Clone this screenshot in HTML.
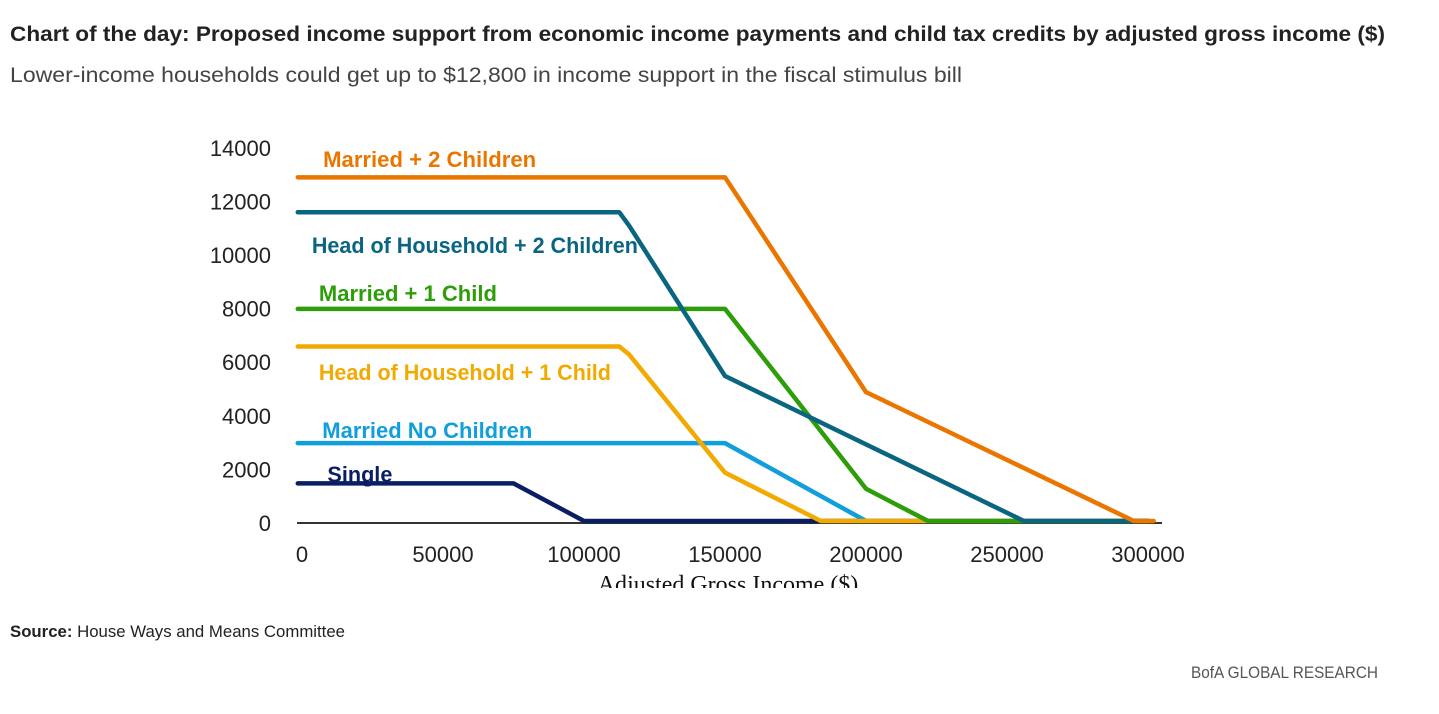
<!DOCTYPE html>
<html><head><meta charset="utf-8"><style>
html,body{margin:0;padding:0;background:#fff;width:1439px;height:714px;overflow:hidden}
svg{display:block;font-family:"Liberation Sans",sans-serif}
</style></head><body>
<svg id="chart" width="1439" height="714" viewBox="0 0 1439 714">
<text x="10" y="41" font-size="21" font-weight="bold" fill="#222" textLength="1375" lengthAdjust="spacingAndGlyphs">Chart of the day: Proposed income support from economic income payments and child tax credits by adjusted gross income ($)</text>
<text x="10" y="82" font-size="21" fill="#444" textLength="952" lengthAdjust="spacingAndGlyphs">Lower-income households could get up to $12,800 in income support in the fiscal stimulus bill</text>
<g id="yticks"></g>
<g id="xticks"></g>
<line x1="297" y1="523" x2="1162" y2="523" stroke="#333" stroke-width="2"/>
<g id="series"></g>
<text x="728" y="592" font-family="Liberation Serif,serif" font-size="24" fill="#111" text-anchor="middle">Adjusted Gross Income ($)</text>
<rect x="560" y="588" width="340" height="20" fill="#fff"/>
<text x="10" y="637" font-size="17" fill="#222" textLength="335" lengthAdjust="spacingAndGlyphs"><tspan font-weight="bold">Source:</tspan> House Ways and Means Committee</text>
<text x="1378" y="678" font-size="17" fill="#555" text-anchor="end" textLength="187" lengthAdjust="spacingAndGlyphs">BofA GLOBAL RESEARCH</text>
</svg>
<script>
const yTicks=[0,2000,4000,6000,8000,10000,12000,14000];
const xTicks=[0,50000,100000,150000,200000,250000,300000];
const seriesNames=["Single","Married No Children","Head of Household + 1 Child","Married + 1 Child","Head of Household + 2 Children","Married + 2 Children"];
const seriesColors=["#0a1f63","#119fdc","#f2a900","#2e9d0a","#0a6680","#ea7600"];
const singleX=[-1500,75000,100000,300000];
const singleY=[1400,1400,0,0];
const marriedNoX=[-1500,150000,200000];
const marriedNoY=[2900,2900,0];
const hoh1X=[-1500,112500,116000,150000,184000,300000];
const hoh1Y=[6500,6500,6200,1800,0,0];
const married1X=[-1500,150000,200000,222000,300000];
const married1Y=[7900,7900,1200,0,0];
const hoh2X=[-1500,112500,116000,150000,256000,300000];
const hoh2Y=[11500,11500,11000,5400,0,0];
const married2X=[-1500,150000,200000,295000,302000];
const married2Y=[12800,12800,4800,0,0];
const labelX=[9000,7200,6000,6000,3500,7500];
const labelY=[1450,3090,5250,8190,9980,13180];
const labelLen=[65,210,292,178,326,213];
const allX=[singleX,marriedNoX,hoh1X,married1X,hoh2X,married2X];
const allY=[singleY,marriedNoY,hoh1Y,married1Y,hoh2Y,married2Y];
const NS="http://www.w3.org/2000/svg";
const xs=v=>302+v*0.00282;
const ys=v=>521-v*0.02685;
const yg=document.getElementById('yticks');
yTicks.forEach(t=>{const e=document.createElementNS(NS,'text');


e.setAttribute('x',271);e.setAttribute('y',(523-t*0.0268)+8);e.setAttribute('text-anchor','end');e.setAttribute('font-size','22');e.setAttribute('fill','#222');e.textContent=t;yg.appendChild(e);});
const xg=document.getElementById('xticks');
xTicks.forEach(t=>{const e=document.createElementNS(NS,'text');


e.setAttribute('x',xs(t));e.setAttribute('y',562);e.setAttribute('text-anchor','middle');e.setAttribute('font-size','22');e.setAttribute('fill','#222');e.textContent=t;xg.appendChild(e);});
const sg=document.getElementById('series');
allX.forEach((xa,i)=>{const p=document.createElementNS(NS,'polyline');


p.setAttribute('points',xa.map((x,j)=>xs(x)+','+ys(allY[i][j])).join(' '));
p.setAttribute('fill','none');p.setAttribute('stroke',seriesColors[i]);p.setAttribute('stroke-width','4.5');p.setAttribute('stroke-linejoin','round');p.setAttribute('stroke-linecap','round');sg.appendChild(p);
const t=document.createElementNS(NS,'text');


t.setAttribute('x',xs(labelX[i]));t.setAttribute('y',ys(labelY[i]));t.setAttribute('font-size','22');t.setAttribute('font-weight','bold');t.setAttribute('fill',seriesColors[i]);
t.setAttribute('textLength',labelLen[i]);t.setAttribute('lengthAdjust','spacingAndGlyphs');
t.textContent=seriesNames[i];sg.appendChild(t);});
</script>
</body></html>
